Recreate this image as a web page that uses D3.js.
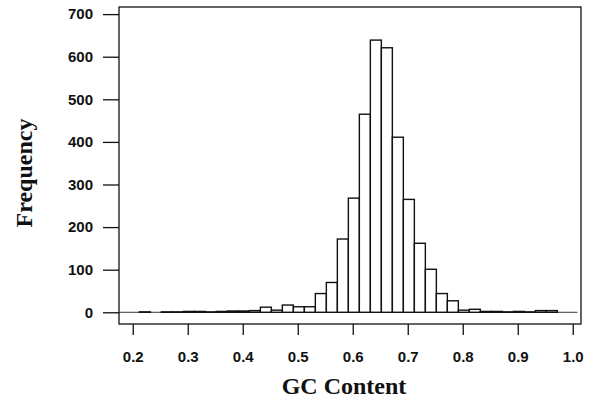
<!DOCTYPE html>
<html>
<head>
<meta charset="utf-8">
<script src="https://cdn.jsdelivr.net/npm/d3@7"></script>
<style>
  body { margin: 0; background: #fff; }
  svg { display: block; }
</style>
</head>
<body>
<div id="chart"></div>
<script>
// histogram bins (lower edge) and counts
var binWidth = 0.02
var binStart = [0.192, 0.212, 0.232, 0.252, 0.272, 0.292, 0.312, 0.332, 0.352, 0.372,
                0.392, 0.412, 0.432, 0.452, 0.472, 0.492, 0.512, 0.532, 0.552, 0.572,
                0.592, 0.612, 0.632, 0.652, 0.672, 0.692, 0.712, 0.732, 0.752, 0.772,
                0.792, 0.812, 0.832, 0.852, 0.872, 0.892, 0.912, 0.932, 0.952]
var counts = [0, 1, 0, 1, 1, 2, 2, 1, 2, 3,
              3, 4, 12, 5, 17, 13, 13, 44, 70, 172,
              268, 465, 639, 621, 411, 265, 162, 101, 44, 27,
              5, 7, 2, 2, 1, 2, 1, 4, 4]
var xTicks = [0.2, 0.3, 0.4, 0.5, 0.6, 0.7, 0.8, 0.9, 1.0]
var yTicks = [0, 100, 200, 300, 400, 500, 600, 700]

var width = 597, height = 403
var box = { left: 119, right: 581, top: 7, bottom: 324 }

var svg = d3.select('#chart').append('svg')
    .attr('width', width)
    .attr('height', height)

var x = d3.scaleLinear().domain([0.175, 1.015]).range([box.left, box.right])
var y = d3.scaleLinear().domain([-27.5, 716.7]).range([box.bottom, box.top])

var bins = binStart.map(function(s, i) { return { x0: s, x1: s + binWidth, n: counts[i] } })

// baseline at zero
svg.append('line')
    .attr('x1', x(0.175)).attr('x2', x(1.0085))
    .attr('y1', y(0)).attr('y2', y(0))
    .attr('stroke', '#333')
    .attr('stroke-width', 1)

svg.selectAll('rect.bar')
    .data(bins)
    .join('rect')
    .attr('class', 'bar')
    .attr('x', d => x(d.x0))
    .attr('y', d => y(d.n))
    .attr('width', d => x(d.x1) - x(d.x0))
    .attr('height', d => y(0) - y(d.n))
    .attr('fill', '#fff')
    .attr('stroke', '#111')
    .attr('stroke-width', 1.4)

// frame
svg.append('rect')
    .attr('x', box.left).attr('y', box.top)
    .attr('width', box.right - box.left)
    .attr('height', box.bottom - box.top)
    .attr('fill', 'none')
    .attr('stroke', '#111')
    .attr('stroke-width', 1.3)

var yAxis = svg.append('g')
    .attr('transform', 'translate(' + box.left + ',0)')
    .call(d3.axisLeft(y).tickValues(yTicks).tickSize(16).tickPadding(10))
yAxis.select('.domain').remove()

var xAxis = svg.append('g')
    .attr('transform', 'translate(0,' + box.bottom + ')')
    .call(d3.axisBottom(x).tickValues(xTicks).tickFormat(d3.format('.1f')).tickSize(11).tickPadding(16))
xAxis.select('.domain').remove()

svg.selectAll('.tick line').attr('stroke', '#111').attr('stroke-width', 1.3)
svg.selectAll('.tick text')
    .attr('fill', '#111')
    .style('font-family', '"Liberation Sans", Arial, sans-serif')
    .style('font-weight', 'bold')
    .style('font-size', '15px')

svg.append('text')
    .attr('x', 344)
    .attr('y', 394)
    .attr('text-anchor', 'middle')
    .style('font-family', '"Liberation Serif", "Times New Roman", serif')
    .style('font-weight', 'bold')
    .style('font-size', '24px')
    .attr('fill', '#111')
    .text('GC Content')

svg.append('text')
    .attr('transform', 'translate(32,173) rotate(-90)')
    .attr('text-anchor', 'middle')
    .style('font-family', '"Liberation Serif", "Times New Roman", serif')
    .style('font-weight', 'bold')
    .style('font-size', '24px')
    .attr('fill', '#111')
    .text('Frequency')
</script>
</body>
</html>
